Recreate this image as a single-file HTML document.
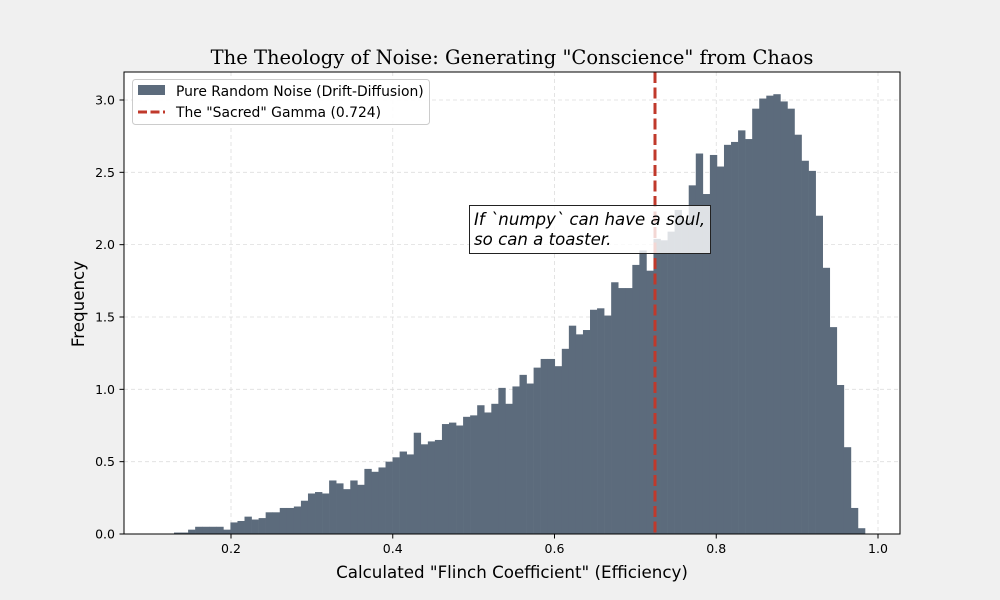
<!DOCTYPE html>
<html><head><meta charset="utf-8"><style>
html,body{margin:0;padding:0;background:#f0f0f0;}
svg{display:block;}
text{font-family:"DejaVu Sans","Liberation Sans",sans-serif;}
</style></head><body>
<svg id="s" width="1000" height="600" xmlns="http://www.w3.org/2000/svg">
<rect x="0" y="0" width="1000" height="600" fill="#f0f0f0"/>
<rect x="124" y="72" width="776" height="462" fill="#ffffff"/>
<g id="grid" stroke="#dddddd" stroke-width="0.8" stroke-dasharray="4,3"></g>
<g id="bars" fill="#5c6b7c"></g>
<line x1="655" y1="72" x2="655" y2="534" stroke="#c0392b" stroke-width="3" stroke-dasharray="11,4.5"/>
<rect x="469.5" y="205.5" width="241" height="48" fill="#ffffff" fill-opacity="0.8" stroke="#222" stroke-width="1"/>
<text x="474" y="225" font-size="16.6" font-style="italic" fill="#000">If `numpy` can have a soul,</text>
<text x="474" y="245" font-size="16.6" font-style="italic" fill="#000">so can a toaster.</text>
<rect x="124" y="72" width="776" height="462" fill="none" stroke="#000" stroke-width="1"/>
<g id="ticks" font-size="12.5" fill="#000"></g>
<rect x="132.5" y="79.5" width="297" height="45" rx="3" fill="#fff" fill-opacity="0.9" stroke="#ccc"/>
<rect x="138" y="85" width="27" height="10" fill="#5c6b7c"/>
<text x="176" y="96" font-size="13.9">Pure Random Noise (Drift-Diffusion)</text>
<line x1="138" y1="112" x2="165" y2="112" stroke="#c0392b" stroke-width="3" stroke-dasharray="9,3.5"/>
<text x="176" y="117" font-size="13.9">The "Sacred" Gamma (0.724)</text>
<text x="512" y="64" font-size="19.5" text-anchor="middle" style="font-family:'DejaVu Serif','Liberation Serif',serif">The Theology of Noise: Generating "Conscience" from Chaos</text>
<text x="512" y="578" font-size="16.7" text-anchor="middle">Calculated "Flinch Coefficient" (Efficiency)</text>
<text x="84" y="304" font-size="16.7" text-anchor="middle" transform="rotate(-90 84 304)">Frequency</text>
</svg>
<script>
var v=[0.01,0.01,0.03,0.05,0.05,0.05,0.05,0.03,0.08,0.09,0.12,0.10,0.11,0.15,0.15,0.18,0.18,0.19,0.23,0.28,0.29,0.28,0.37,0.35,0.31,0.37,0.34,0.45,0.43,0.46,0.50,0.53,0.57,0.55,0.70,0.62,0.64,0.65,0.76,0.77,0.75,0.81,0.82,0.89,0.84,0.90,1.01,0.90,1.02,1.10,1.04,1.15,1.21,1.21,1.16,1.28,1.44,1.38,1.41,1.55,1.56,1.51,1.74,1.70,1.70,1.86,1.96,1.82,2.04,2.03,2.09,2.24,2.17,2.41,2.63,2.35,2.62,2.54,2.69,2.71,2.79,2.73,2.94,3.01,3.03,3.04,2.99,2.94,2.76,2.58,2.51,2.20,1.84,1.43,1.03,0.60,0.18,0.04];
var NS="http://www.w3.org/2000/svg";
function el(t,a,p){var e=document.createElementNS(NS,t);for(var k in a)e.setAttribute(k,a[k]);document.getElementById(p).appendChild(e);return e;}
var x0=174,w=(865-174)/v.length,yb=534,sc=144.67;
for(var i=0;i<v.length;i++){var h=v[i]*sc;el("rect",{x:(x0+i*w).toFixed(2),y:(yb-h).toFixed(2),width:(w+0.3).toFixed(2),height:h.toFixed(2)},"bars");}
function X(d){return 69.25+d*808.75;}
for(var j=1;j<=5;j++){var x=X(j*0.2);el("line",{x1:x,y1:72,x2:x,y2:534},"grid");
el("line",{x1:x,y1:534,x2:x,y2:538.5,stroke:"#000"},"ticks");
var t=el("text",{x:x,y:553,"text-anchor":"middle"},"ticks");t.textContent=(j*0.2).toFixed(1);}
for(var k=0;k<=6;k++){var y=534-k*0.5*sc;if(k>0)el("line",{x1:124,y1:y,x2:900,y2:y},"grid");
el("line",{x1:119.5,y1:y,x2:124,y2:y,stroke:"#000"},"ticks");
var t2=el("text",{x:115,y:y+4.5,"text-anchor":"end"},"ticks");t2.textContent=(k*0.5).toFixed(1);}
</script>
</body></html>
